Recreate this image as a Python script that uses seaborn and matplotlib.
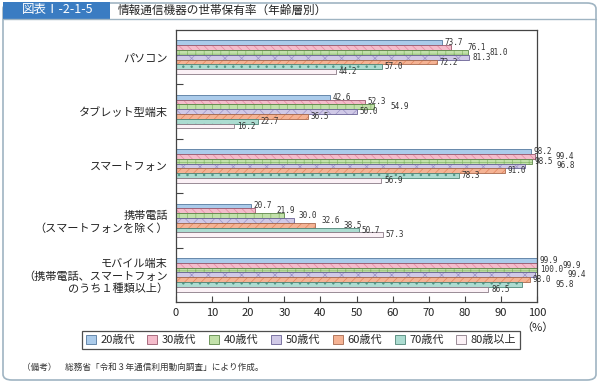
import matplotlib
matplotlib.use("Agg")
import matplotlib.pyplot as plt
import seaborn as sns
import pandas as pd
import numpy as np
from matplotlib.patches import FancyBboxPatch, Rectangle
from matplotlib.colors import to_rgba

categories = ["パソコン", "タブレット型端末", "スマートフォン",
              "携帯電話\n（スマートフォンを除く）",
              "モバイル端末\n（携帯電話、スマートフォン\nのうち１種類以上）"]
ages = ["20歳代", "30歳代", "40歳代", "50歳代", "60歳代", "70歳代", "80歳以上"]
v20 = [73.7, 42.6, 98.2, 20.7, 99.9]
v30 = [76.1, 52.3, 99.4, 21.9, 99.9]
v40 = [81.0, 54.9, 98.5, 30.0, 100.0]
v50 = [81.3, 50.0, 96.8, 32.6, 99.4]
v60 = [72.2, 36.5, 91.0, 38.5, 98.0]
v70 = [57.0, 22.7, 78.3, 50.7, 95.8]
v80 = [44.2, 16.2, 56.9, 57.3, 86.5]
xticks = [0, 10, 20, 30, 40, 50, 60, 70, 80, 90, 100]

series = [v20, v30, v40, v50, v60, v70, v80]
rows = []
for age, vals in zip(ages, series):
    for cat, v in zip(categories, vals):
        rows.append({"category": cat, "age": age, "value": v})
df = pd.DataFrame(rows)

faces = ["#abcbea", "#f4bccb", "#c2e1aa", "#d0c9e7", "#f5b394", "#acdcd1", "#fbf1f6"]
hatchc = ["#8fb2d8", "#e58aa2", "#86b86a", "#9c93c6", "#e3855e", "#4f9584", "#e8d6e2"]
edges = ["#55799f", "#9a5a6e", "#5d8749", "#6a6395", "#a76a4e", "#4f8577", "#8a7a86"]
hatches = ["", "\\\\\\\\", "++", "xx", "////", "..", ""]

sns.set_theme(style="white")
plt.rcParams["font.family"] = ["Noto Sans CJK JP", "DejaVu Sans"]
plt.rcParams["hatch.linewidth"] = 0.5

fig = plt.figure(figsize=(6.0, 3.83), dpi=100)
ax = fig.add_axes([176/600, 1-302/383, (537-176)/600, (302-30)/383])

sns.barplot(data=df, y="category", x="value", hue="age", hue_order=ages,
            order=categories, orient="h", palette=faces, width=0.62,
            ax=ax, legend=False, saturation=1)

texts = []
for i, cont in enumerate(ax.containers):
    row = []
    for j, p in enumerate(cont.patches):
        p.set_edgecolor(edges[i])
        p.set_linewidth(0.6)
        p.set_hatch(hatches[i])
        p._hatch_color = to_rgba(hatchc[i])
        t = ax.text(p.get_width() + 0.8, p.get_y() + p.get_height() / 2, f"{series[i][j]:.1f}",
                    ha="left", va="center", fontsize=5.5, color="#333333",
                    family=["DejaVu Sans Mono", "DejaVu Sans"], clip_on=False)
        row.append(t)
    texts.append(row)

ax.set_xlim(0, 100)
ax.set_ylim(4.5, -0.5)
ax.set_xticks(xticks)
ax.set_xticklabels([str(t) for t in xticks], fontsize=8, color="#222222")
ax.set_yticks(range(len(categories)))
ax.set_yticklabels(categories, fontsize=8, color="#222222", ha="right",
                   multialignment="right")
ax.set_yticks([0.5, 1.5, 2.5, 3.5], minor=True)
ax.tick_params(axis="y", which="major", length=0, pad=6)
ax.tick_params(axis="y", which="minor", length=5, direction="in", color="#444444", width=0.8, left=True)
ax.tick_params(axis="x", length=4, direction="in", color="#444444", width=0.8, bottom=True, pad=4)
ax.set_xlabel("")
ax.set_ylabel("")
for s in ax.spines.values():
    s.set_color("#444444")
    s.set_linewidth(0.9)
ax.text(1.0, -0.075, "（%）", transform=ax.transAxes, ha="center", va="top", fontsize=8, color="#222222")

# resolve value-label overlaps by staggering to the right
fig.canvas.draw()
renderer = fig.canvas.get_renderer()
inv = ax.transData.inverted()
for j in range(len(categories)):
    placed = []
    for i in range(len(ages)):
        t = texts[i][j]
        for _ in range(10):
            bb = t.get_window_extent(renderer)
            hit = None
            for pb in placed:
                if (bb.x0 < pb.x1 - 2 and bb.x1 > pb.x0 + 2 and
                        bb.y0 < pb.y1 - 1.5 and bb.y1 > pb.y0 + 1.5):
                    hit = pb
                    break
            if hit is None:
                break
            dx = hit.x1 + 4 - bb.x0
            x0, y0 = t.get_position()
            disp = ax.transData.transform((x0, y0))
            t.set_position(tuple(inv.transform((disp[0] + dx, disp[1]))))
        placed.append(t.get_window_extent(renderer))

# legend
handles = [Rectangle((0, 0), 1, 1, facecolor=faces[i], edgecolor=edges[i], linewidth=0.6,
                     hatch="") for i in range(len(ages))]
leg = fig.legend(handles, ages, loc="center", bbox_to_anchor=(301/600, 1-340/383), ncol=7,
                 fontsize=8, frameon=True, fancybox=False, edgecolor="#222222",
                 handlelength=0.9, handleheight=0.9, handletextpad=0.4, columnspacing=1.15,
                 borderpad=0.3)
leg.get_frame().set_linewidth(0.9)

# outer frame and header
fig.patches.append(FancyBboxPatch((3/600, 3/383), 593/600, 377/383,
                                  boxstyle="round,pad=0,rounding_size=0.015",
                                  transform=fig.transFigure, facecolor="none",
                                  edgecolor="#9fb4c2", linewidth=1.2))
fig.patches.append(Rectangle((3/600, 1-19/383), 107/600, 17/383, transform=fig.transFigure,
                             facecolor="#3a7cc2", edgecolor="none"))
fig.lines.append(plt.Line2D([3/600, 596/600], [1-19/383, 1-19/383], transform=fig.transFigure,
                            color="#9fb4c2", linewidth=1.0))
fig.text(22/600, 1-10/383, "図表Ⅰ-2-1-5", color="white", fontsize=9, va="center", ha="left")
fig.text(118/600, 1-10/383, "情報通信機器の世帯保有率（年齢層別）", color="#222222", fontsize=8.4,
         va="center", ha="left")
fig.text(22/600, 1-367/383, "（備考）　総務省「令和３年通信利用動向調査」により作成。",
         color="#333333", fontsize=6.2, va="center", ha="left")

fig.savefig("out.png", dpi=100)
